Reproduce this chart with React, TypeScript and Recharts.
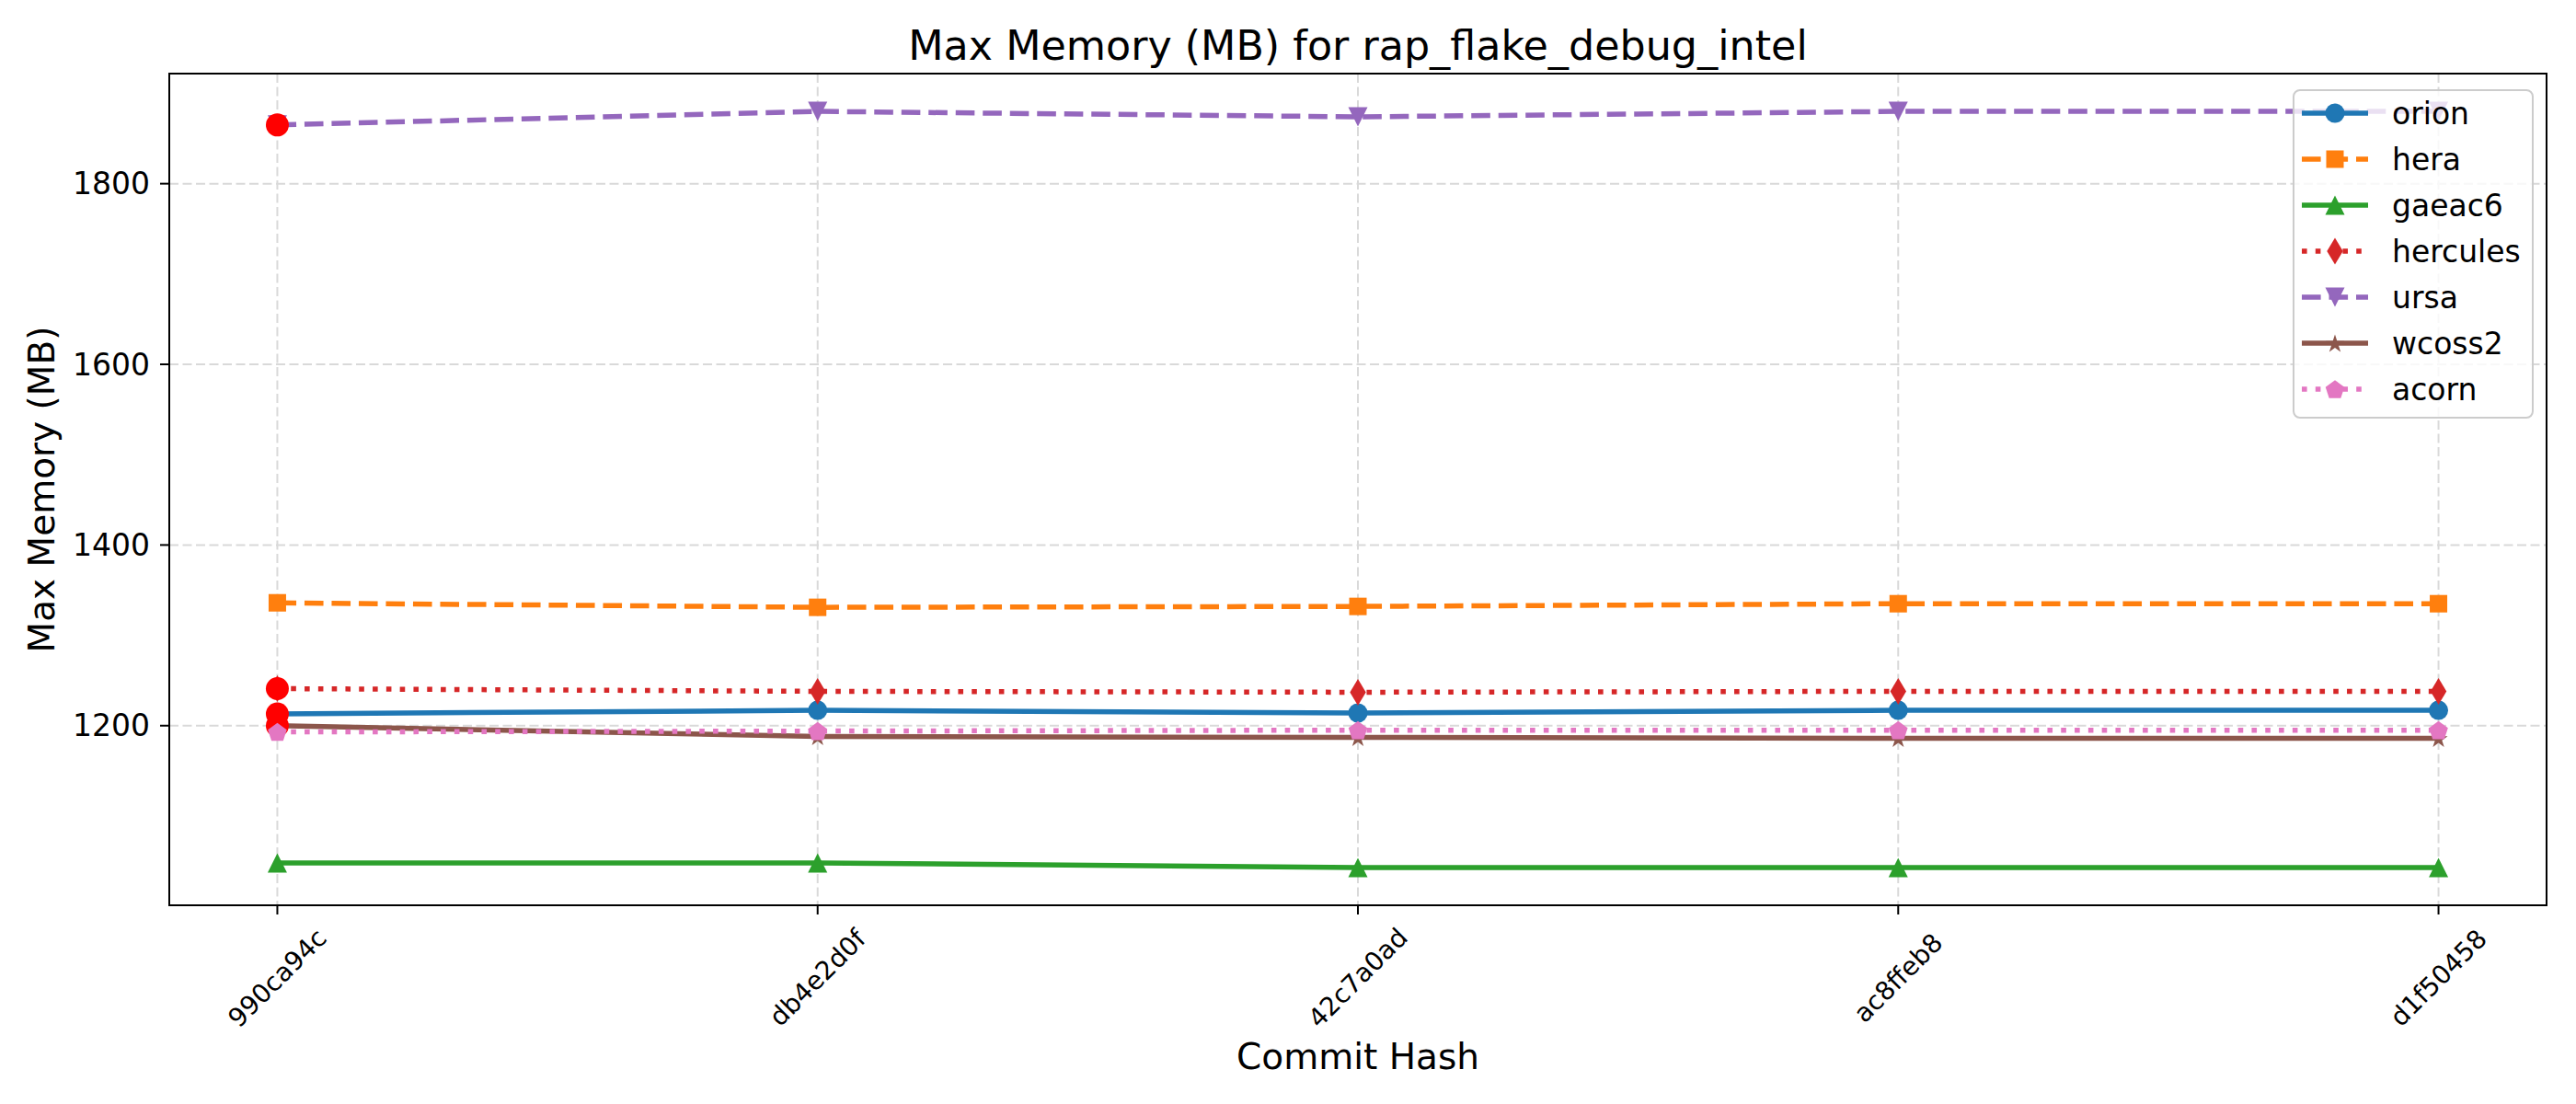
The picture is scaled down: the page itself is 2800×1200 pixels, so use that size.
import { ComposedChart, Line, XAxis, YAxis, CartesianGrid, Label, ReferenceArea } from 'recharts';

const commits = ['990ca94c', 'db4e2d0f', '42c7a0ad', 'ac8ffeb8', 'd1f50458'];

// max memory (MB) per machine, one value per commit
const orion = [1213, 1217, 1214, 1217, 1217];
const hera = [1336, 1331, 1332, 1335, 1335];
const gaeac6 = [1048, 1048, 1043, 1043, 1043];
const hercules = [1241, 1238, 1237, 1238, 1238];
const ursa = [1865, 1880, 1874, 1880, 1880];
const wcoss2 = [1200, 1188, 1187, 1186, 1186];
const acorn = [1193, 1194, 1195, 1195, 1195];

const yTicks = [1200, 1400, 1600, 1800];

// points marked with a red dot: [machine, commit index]
const flagged: [string, number][] = [
  ['orion', 0],
  ['hercules', 0],
  ['ursa', 0],
  ['wcoss2', 0],
];

const FONT = 'DejaVu Sans, sans-serif';
const LW = 5.5;
const DASHED = '20.6 8.9';
const DOTTED = '5.6 9.2';

const series = [
  { name: 'orion', values: orion, color: '#1f77b4', dash: undefined, marker: 'circle' },
  { name: 'hera', values: hera, color: '#ff7f0e', dash: DASHED, marker: 'square' },
  { name: 'gaeac6', values: gaeac6, color: '#2ca02c', dash: undefined, marker: 'triUp' },
  { name: 'hercules', values: hercules, color: '#d62728', dash: DOTTED, marker: 'thinDiamond' },
  { name: 'ursa', values: ursa, color: '#9467bd', dash: DASHED, marker: 'triDown' },
  { name: 'wcoss2', values: wcoss2, color: '#8c564b', dash: undefined, marker: 'star' },
  { name: 'acorn', values: acorn, color: '#e377c2', dash: DOTTED, marker: 'pentagon' },
];

const data = commits.map((c, i) => {
  const row: Record<string, number | string> = { idx: i, commit: c };
  series.forEach(s => { row[s.name] = s.values[i]; });
  return row;
});

// matplotlib-like 5% autoscale margins
const allVals = series.flatMap(s => s.values);
const yMin = Math.min(...allVals);
const yMax = Math.max(...allVals);
const yPad = (yMax - yMin) * 0.05;
const yDomain = [yMin - yPad, yMax + yPad];
const xPad = (commits.length - 1) * 0.05;
const xDomain = [-xPad, commits.length - 1 + xPad];
const xTicks = commits.map((_, i) => i);

function polyPoints(x: number, y: number, n: number, rOuter: number, rInner?: number) {
  const pts: string[] = [];
  const count = rInner ? n * 2 : n;
  for (let k = 0; k < count; k++) {
    const r = rInner && k % 2 === 1 ? rInner : rOuter;
    const a = -Math.PI / 2 + (k * 2 * Math.PI) / count;
    pts.push(`${x + r * Math.cos(a)},${y + r * Math.sin(a)}`);
  }
  return pts.join(' ');
}

function Marker({ shape, x, y, color }: { shape: string; x: number; y: number; color: string }) {
  switch (shape) {
    case 'circle':
      return <circle cx={x} cy={y} r={10.5} fill={color} />;
    case 'square':
      return <rect x={x - 9.5} y={y - 9.5} width={19} height={19} fill={color} />;
    case 'triUp':
      return <polygon points={`${x},${y - 10.5} ${x - 10.5},${y + 10.5} ${x + 10.5},${y + 10.5}`} fill={color} />;
    case 'triDown':
      return <polygon points={`${x},${y + 10.5} ${x - 10.5},${y - 10.5} ${x + 10.5},${y - 10.5}`} fill={color} />;
    case 'thinDiamond':
      return <polygon points={`${x},${y - 14.5} ${x + 8.7},${y} ${x},${y + 14.5} ${x - 8.7},${y}`} fill={color} />;
    case 'star':
      return <polygon points={polyPoints(x, y + 1, 5, 10.5, 4)} fill={color} />;
    case 'pentagon':
      return <polygon points={polyPoints(x, y + 1, 5, 10.8)} fill={color} />;
    default:
      return null;
  }
}

function makeDot(s: typeof series[number]) {
  return (props: any) => {
    const { cx, cy, index } = props;
    if (cx == null || cy == null) return <g key={`${s.name}-${index}`} />;
    const isFlagged = flagged.some(([m, i]) => m === s.name && i === index);
    return (
      <g key={`${s.name}-${index}`}>
        <Marker shape={s.marker} x={cx} y={cy} color={s.color} />
        {isFlagged && <circle cx={cx} cy={cy} r={12.5} fill="#ff0000" />}
      </g>
    );
  };
}

function CommitTick({ x, y, payload }: any) {
  return (
    <g transform={`translate(${x},${y + 69}) rotate(-45)`}>
      <text textAnchor="middle" dominantBaseline="central" fontSize={28} fontFamily={FONT} fill="#000">
        {commits[payload.value]}
      </text>
    </g>
  );
}

function XTitle({ viewBox }: any) {
  return (
    <text x={viewBox.x + viewBox.width / 2} y={1162} textAnchor="middle" fontSize={39} fontFamily={FONT} fill="#000">
      Commit Hash
    </text>
  );
}

function YTitle({ viewBox }: any) {
  const cy = viewBox.y + viewBox.height / 2;
  return (
    <text x={59} y={cy} transform={`rotate(-90, 59, ${cy})`} textAnchor="middle" fontSize={39} fontFamily={FONT} fill="#000">
      Max Memory (MB)
    </text>
  );
}

function LegendBox() {
  return (
    <div
      style={{
        position: 'absolute', left: 2492, top: 97, width: 262, height: 358, boxSizing: 'border-box',
        border: '2.5px solid #cccccc', borderRadius: 8, background: 'rgba(255,255,255,0.8)',
      }}
    >
      <svg width={258} height={354} style={{ position: 'absolute', left: -2.5, top: -2.5 }}>
        {series.map((s, i) => {
          const cy = 26 + i * 50;
          return (
            <g key={s.name}>
              <line x1={10} x2={82} y1={cy} y2={cy} stroke={s.color} strokeWidth={LW} strokeDasharray={s.dash} />
              <Marker shape={s.marker} x={46} y={cy} color={s.color} />
              <text x={108} y={cy} dominantBaseline="central" fontSize={33} fontFamily={FONT} fill="#000">
                {s.name}
              </text>
            </g>
          );
        })}
      </svg>
    </div>
  );
}

export default function App() {
  return (
    <div style={{ position: 'absolute', left: 0, top: 0, width: 2800, height: 1200, background: '#fff' }}>
      <ComposedChart width={2800} height={1200} data={data} margin={{ top: 80, right: 32, bottom: 66, left: 84 }}>
        <CartesianGrid stroke="#d9d9d9" strokeWidth={2} strokeDasharray="10 4.5" />
        <XAxis
          dataKey="idx"
          type="number"
          domain={xDomain}
          ticks={xTicks}
          allowDataOverflow
          height={150}
          tickSize={10}
          tickMargin={0}
          interval={0}
          stroke="#000"
          strokeWidth={2}
          tickLine={{ stroke: '#000', strokeWidth: 2 }}
          tick={<CommitTick />}
        >
          <Label content={<XTitle />} />
        </XAxis>
        <YAxis
          type="number"
          domain={yDomain}
          ticks={yTicks}
          allowDataOverflow
          width={100}
          tickSize={10}
          tickMargin={11}
          stroke="#000"
          strokeWidth={2}
          tickLine={{ stroke: '#000', strokeWidth: 2 }}
          tick={{ fontSize: 33, fontFamily: FONT, fill: '#000' }}
        >
          <Label content={<YTitle />} />
        </YAxis>
        {/* axes frame */}
        <ReferenceArea
          x1={xDomain[0]}
          x2={xDomain[1]}
          y1={yDomain[0]}
          y2={yDomain[1]}
          fill="none"
          fillOpacity={0}
          stroke="#000"
          strokeWidth={2}
          strokeOpacity={1}
        />
        {series.map(s => (
          <Line
            key={s.name}
            dataKey={s.name}
            type="linear"
            stroke={s.color}
            strokeWidth={LW}
            strokeDasharray={s.dash}
            dot={makeDot(s)}
            activeDot={false}
            isAnimationActive={false}
          />
        ))}
      </ComposedChart>
      <svg width={2800} height={80} style={{ position: 'absolute', left: 0, top: 0 }}>
        <text x={1476} y={65} textAnchor="middle" fontSize={44.4} fontFamily={FONT} fill="#000">
          Max Memory (MB) for rap_flake_debug_intel
        </text>
      </svg>
      <LegendBox />
    </div>
  );
}
